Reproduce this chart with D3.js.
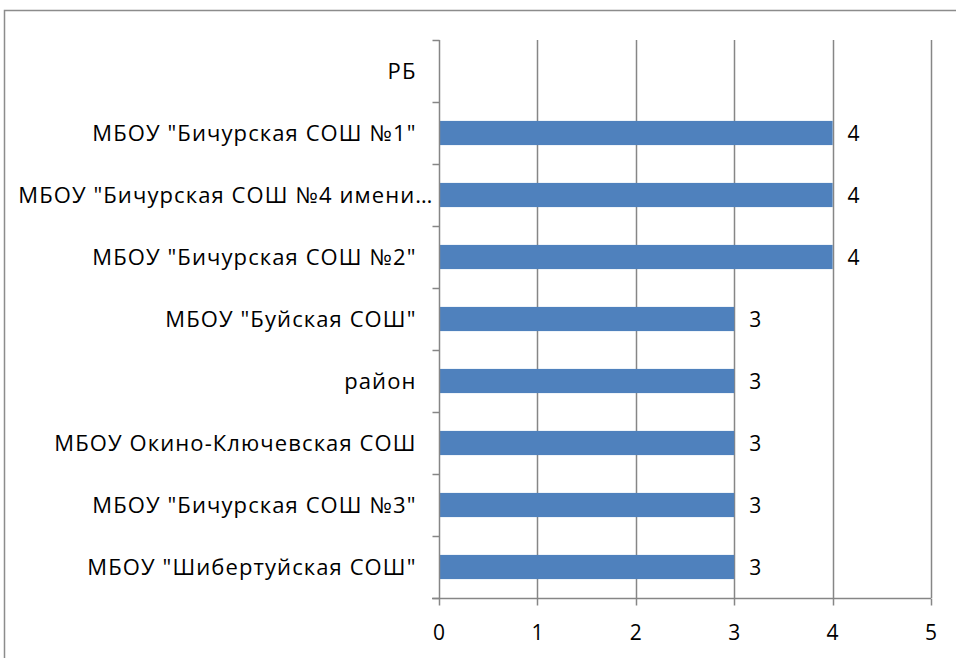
<!DOCTYPE html>
<html><head><meta charset="utf-8">
<script src="https://cdn.jsdelivr.net/npm/d3@7"></script>
<style>body{margin:0;background:#fff}svg{display:block}</style>
</head><body>
<script>
const categories = ["РБ", "МБОУ \"Бичурская СОШ №1\"", "МБОУ \"Бичурская СОШ №4 имени…", "МБОУ \"Бичурская СОШ №2\"", "МБОУ \"Буйская СОШ\"", "район", "МБОУ Окино-Ключевская СОШ", "МБОУ \"Бичурская СОШ №3\"", "МБОУ \"Шибертуйская СОШ\""];
const values = [null, 4, 4, 4, 3, 3, 3, 3, 3];
const xTicks = [0, 1, 2, 3, 4, 5];

const W = 956, H = 658;
const svg = d3.select("body").append("svg").attr("width", W).attr("height", H);
const font = "'Open Sans', 'Liberation Sans', Arial, sans-serif";
const fs = 21;
svg.append("rect").attr("x", 4.5).attr("y", 10.5).attr("width", W).attr("height", H)
  .attr("fill", "#fff").attr("stroke", "#8c8c8c").attr("stroke-width", 1.5);

const x = d3.scaleLinear().domain([0, 5]).range([439, 931]);
const y = d3.scaleBand().domain(categories).range([40, 598]).paddingInner(0.61).paddingOuter(0.305);
const yb = d3.scaleBand().domain(categories).range([40, 598]);

// gridlines
svg.append("g").selectAll("line").data(xTicks.slice(1)).join("line")
  .attr("x1", d => Math.round(x(d)) + 0.5).attr("x2", d => Math.round(x(d)) + 0.5)
  .attr("y1", 40).attr("y2", 598).attr("stroke", "#868686").attr("stroke-width", 1.5);

// bars
svg.append("g").selectAll("rect").data(categories.map((c, i) => ({c, v: values[i]})).filter(d => d.v != null)).join("rect")
  .attr("x", x(0)).attr("y", d => y(d.c)).attr("width", d => x(d.v) - x(0)).attr("height", y.bandwidth())
  .attr("fill", "#4F81BD");

// value labels
svg.append("g").selectAll("text").data(categories.map((c, i) => ({c, v: values[i]})).filter(d => d.v != null)).join("text")
  .attr("x", d => x(d.v) + 15).attr("y", d => y(d.c) + y.bandwidth() / 2)
  .attr("dy", "0.36em").attr("font-family", font).attr("font-size", fs).attr("fill", "#000")
  .text(d => d.v);

// y axis
const gy = svg.append("g").attr("transform", `translate(${Math.round(x(0)) + 0.5},0)`);
gy.append("line").attr("y1", 40).attr("y2", 598).attr("stroke", "#868686").attr("stroke-width", 1.5);
const yTickPos = categories.map(c => yb(c)).concat([598]);
gy.selectAll("line.t").data(yTickPos).join("line").attr("class", "t")
  .attr("x1", -7).attr("x2", 0).attr("y1", d => Math.round(d) + 0.5).attr("y2", d => Math.round(d) + 0.5)
  .attr("stroke", "#868686").attr("stroke-width", 1.5);
gy.selectAll("text").data(categories).join("text")
  .attr("x", d => d.endsWith("…") ? -6 : -23).attr("y", d => yb(d) + yb.bandwidth() / 2).attr("dy", "0.36em")
  .attr("text-anchor", "end").attr("font-family", font).attr("font-size", fs + 1).attr("letter-spacing", 1.1).attr("fill", "#000")
  .text(d => d);

// x axis
const gx = svg.append("g").attr("transform", `translate(0,598.5)`);
gx.append("line").attr("x1", x(0) - 7).attr("x2", x(5)).attr("stroke", "#868686").attr("stroke-width", 1.5);
gx.selectAll("line.t").data(xTicks).join("line").attr("class", "t")
  .attr("x1", d => Math.round(x(d)) + 0.5).attr("x2", d => Math.round(x(d)) + 0.5).attr("y1", 0).attr("y2", 7)
  .attr("stroke", "#868686").attr("stroke-width", 1.5);
gx.selectAll("text").data(xTicks).join("text")
  .attr("x", d => x(d)).attr("y", 34).attr("dy", "0.36em").attr("text-anchor", "middle")
  .attr("font-family", font).attr("font-size", fs).attr("fill", "#000").text(d => d);
</script>
</body></html>
